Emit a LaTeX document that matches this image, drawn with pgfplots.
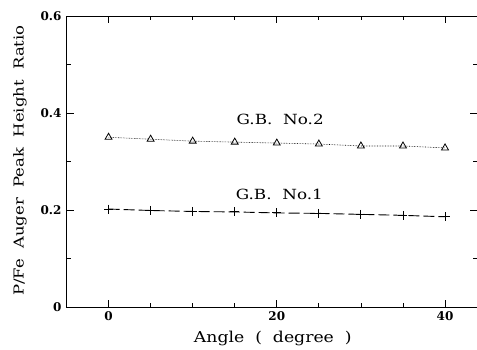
\documentclass[border=0pt]{standalone}
\usepackage{pgfplots}
\pgfplotsset{compat=1.18}
\usepackage{fontspec}
\setmainfont{DejaVu Serif}
\begin{document}
\begin{tikzpicture}
\begin{axis}[
  at={(0pt,0pt)}, anchor=south west,
  scale only axis, width=410pt, height=291pt,
  xmin=-4.94, xmax=43.8, ymin=0, ymax=0.6,
  axis line style={draw=none},
  xtick={0,20,40}, minor xtick={5,10,15,25,30,35},
  ytick={0,0.2,0.4,0.6}, minor ytick={0.1,0.3,0.5},
  yticklabels={0,0.2,0.4,0.6},
  xtick pos=both, ytick pos=both,
  tick align=inside,
  major tick length=7pt, minor tick length=4pt,
  tick style={black, line width=0.8pt},
  /pgf/number format/assume math mode=true,
  ticklabel style={font=\bfseries\fontsize{12}{12}\selectfont},
  xticklabel style={yshift=-1pt},
  yticklabel style={xshift=-2pt},
  xlabel={\scalebox{1.15}[1]{Angle\ \ (\ \ degree\ \ )}},
  ylabel={\scalebox{1.2}[1]{P/Fe\ \ Auger\ \ Peak\ \ Height\ \ Ratio}},
  xlabel style={font=\fontsize{15}{15}\selectfont, at={(axis description cs:0.502,0)}, anchor=center, yshift=-31pt},
  ylabel style={font=\fontsize{13.7}{13.7}\selectfont, at={(axis description cs:-0.115,0.503)}, anchor=center},
  clip=false,
]
\draw[line width=1pt] (axis description cs:1,1) -- (axis description cs:0,1) -- (axis description cs:0,0) -- (axis description cs:1,0);
\addplot[black, line width=0.6pt, densely dotted, mark=triangle, mark size=4pt, mark options={solid, line width=0.8pt}]
coordinates {(0,0.350) (5,0.346) (10,0.342) (15,0.340) (20,0.338) (25,0.336) (30,0.332) (35,0.332) (40,0.328)};
\addplot[black, line width=0.9pt, dash pattern=on 11pt off 4pt, mark=+, mark size=4.5pt, mark options={solid, line width=0.9pt}]
coordinates {(0,0.202) (5,0.199) (10,0.197) (15,0.196) (20,0.194) (25,0.193) (30,0.191) (35,0.189) (40,0.186)};
\node[font=\fontsize{14}{14}\selectfont] at (axis cs:20.4,0.386) {\scalebox{1.2}[1]{G.B.\ \ No.2}};
\node[font=\fontsize{14}{14}\selectfont] at (axis cs:20.3,0.233) {\scalebox{1.2}[1]{G.B.\ \ No.1}};
\end{axis}
\pgfresetboundingbox
\path (-67pt,-42pt) rectangle (410pt,307pt);
\end{tikzpicture}
\end{document}
